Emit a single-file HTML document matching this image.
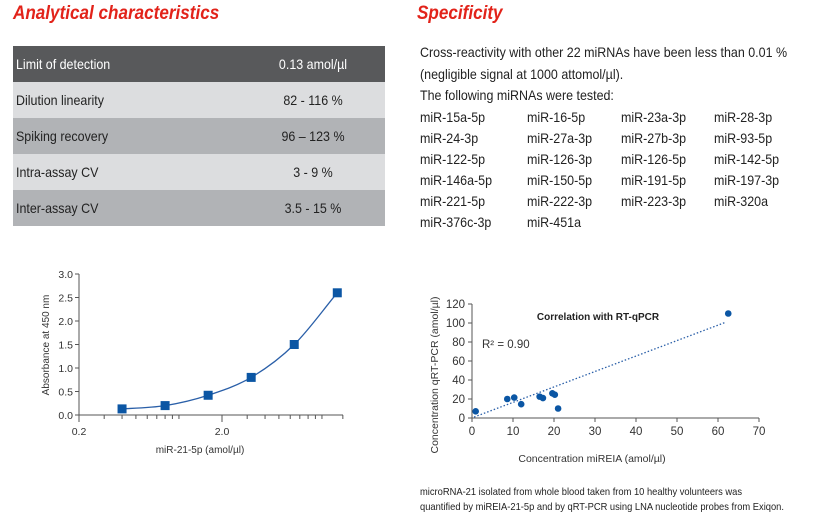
<!DOCTYPE html>
<html><head><meta charset="utf-8">
<style>
body{margin:0;width:839px;height:522px;background:#fff;overflow:hidden;font-family:"Liberation Sans",sans-serif;color:#222;position:relative}
.abs{position:absolute;white-space:nowrap}
.n{transform:scaleX(0.89);transform-origin:0 50%}
h2{position:absolute;margin:0;font-size:19px;font-style:italic;font-weight:bold;color:#e2231a;white-space:nowrap;transform:scaleX(0.9);transform-origin:0 50%}
.row{position:absolute;left:13px;width:372px;height:36px;font-size:14px;line-height:36px}
.row span{position:absolute;left:3px;transform:scaleX(0.89);transform-origin:0 50%;white-space:nowrap}
.row b{position:absolute;left:220px;width:160px;text-align:center;font-weight:normal;transform:scaleX(0.89);white-space:nowrap}
.t{font-size:14px}
</style></head><body>
<h2 style="left:13px;top:3px">Analytical characteristics</h2>
<h2 style="left:417px;top:3px">Specificity</h2>
<div>
<div class="row" style="top:46px;background:#58595b;color:#fff"><span>Limit of detection</span><b>0.13 amol/µl</b></div>
<div class="row" style="top:82px;background:#dcdddf"><span>Dilution linearity</span><b>82 - 116 %</b></div>
<div class="row" style="top:118px;background:#b1b3b6"><span>Spiking recovery</span><b>96 – 123 %</b></div>
<div class="row" style="top:154px;background:#dcdddf"><span>Intra-assay CV</span><b>3 - 9 %</b></div>
<div class="row" style="top:190px;background:#b1b3b6"><span>Inter-assay CV</span><b>3.5 - 15 %</b></div>
</div>
<div class="abs t n" style="left:420px;top:44px">Cross-reactivity with other 22 miRNAs have been less than 0.01 %</div>
<div class="abs t n" style="left:420px;top:66px">(negligible signal at 1000 attomol/µl).</div>
<div class="abs t n" style="left:420px;top:87px">The following miRNAs were tested:</div>
<div id="mirs"></div>
<div class="abs n" style="left:420px;top:485px;font-size:10.5px;line-height:15px">microRNA-21 isolated from whole blood taken from 10 healthy volunteers was<br>quantified by miREIA-21-5p and by qRT-PCR using LNA nucleotide probes from Exiqon.</div>
<svg id="c1" class="abs" style="left:0;top:260px" width="360" height="200"></svg>
<svg id="c2" class="abs" style="left:420px;top:290px" width="380" height="180"></svg>
<script>
const mirs=["miR-15a-5p","miR-16-5p","miR-23a-3p","miR-28-3p","miR-24-3p","miR-27a-3p","miR-27b-3p","miR-93-5p","miR-122-5p","miR-126-3p","miR-126-5p","miR-142-5p","miR-146a-5p","miR-150-5p","miR-191-5p","miR-197-3p","miR-221-5p","miR-222-3p","miR-223-3p","miR-320a","miR-376c-3p","miR-451a"];
const colX=[420,527,621,714];
const md=document.getElementById('mirs');
mirs.forEach((m,i)=>{const d=document.createElement('div');d.className='abs t n';d.style.left=colX[i%4]+'px';d.style.top=(109+Math.floor(i/4)*21)+'px';d.textContent=m;


md.appendChild(d);});

const NS='http://www.w3.org/2000/svg';
function el(svg,tag,a,txt){const e=document.createElementNS(NS,tag);for(const k in a)e.setAttribute(k,a[k]);if(txt!==undefined)e.textContent=txt;svg.appendChild(e);return e;}

// Chart 1: standard curve
const conc=[0.4,0.8,1.6,3.2,6.4,12.8];
const absorb=[0.13,0.2,0.42,0.8,1.5,2.6];
const yTicks1=[0,0.5,1.0,1.5,2.0,2.5,3.0];
const xLabels1=[0.2,2.0];
const s1=document.getElementById('c1');
const X1=v=>79+143*Math.log10(v/0.2), Y1=v=>155-47*v;
el(s1,'line',{x1:79,y1:14,x2:79,y2:155,stroke:'#555'});
el(s1,'line',{x1:79,y1:155,x2:343,y2:155,stroke:'#555'});
yTicks1.forEach(t=>{el(s1,'line',{x1:75,x2:79,y1:Y1(t),y2:Y1(t),stroke:'#555'});
const tx=el(s1,'text',{x:73,y:Y1(t)+4,'text-anchor':'end','font-size':10.5,fill:'#333'},t.toFixed(1));});
[0.2,0.3,0.4,0.5,0.6,0.7,0.8,0.9,1,2,3,4,5,6,7,8,9,10,14].forEach(v=>{const big=(v==0.2||v==2);el(s1,'line',{x1:X1(v),x2:X1(v),y1:155,y2:big?162:159,stroke:'#555'});});
xLabels1.forEach(v=>{const tx=el(s1,'text',{x:X1(v),y:175,'text-anchor':'middle','font-size':10.5,fill:'#333'},v.toFixed(1));});
let t1=el(s1,'text',{x:200,y:193,'text-anchor':'middle','font-size':10,fill:'#333'},'miR-21-5p (amol/µl)');
let t2=el(s1,'text',{x:0,y:0,'text-anchor':'middle','font-size':10,fill:'#333',transform:'translate(49,85) rotate(-90)'},'Absorbance at 450 nm');
// smooth curve via Catmull-Rom in pixel space
const P=conc.map((c,i)=>[X1(c),Y1(absorb[i])]);
let d='M'+P[0][0]+','+P[0][1];
for(let i=0;i<P.length-1;i++){const p0=P[i-1]||P[i],p1=P[i],p2=P[i+1],p3=P[i+2]||[2*P[i+1][0]-P[i][0],2*P[i+1][1]-P[i][1]];
const c1=[p1[0]+(p2[0]-p0[0])/6,p1[1]+(p2[1]-p0[1])/6],c2=[p2[0]-(p3[0]-p1[0])/6,p2[1]-(p3[1]-p1[1])/6];
d+=' C'+c1+' '+c2+' '+p2;}
let cv=el(s1,'path',{d:d,fill:'none',stroke:'#2a5fa8','stroke-width':1.3});
conc.forEach((c,i)=>{const r=el(s1,'rect',{x:X1(c)-4.5,y:Y1(absorb[i])-4.5,width:9,height:9,fill:'#0b56a4'});});

// Chart 2: correlation
const mireia=[0.9,8.6,10.3,12,16.5,17.3,19.6,20.2,21,62.5];
const qpcr=[7,20,21.5,14.5,22.5,21,26,24.5,10,110];
const xTicks2=[0,10,20,30,40,50,60,70];
const yTicks2=[0,20,40,60,80,100,120];
const trend=[[0.5,1],[62,101]];
const s2=document.getElementById('c2');
const X2=v=>52+v*(287/70), Y2=v=>128-v*(114/120);
el(s2,'line',{x1:52,y1:14,x2:52,y2:128,stroke:'#555'});
el(s2,'line',{x1:52,y1:128,x2:339,y2:128,stroke:'#555'});
yTicks2.forEach(t=>{el(s2,'line',{x1:48,x2:52,y1:Y2(t),y2:Y2(t),stroke:'#555'});const tx=el(s2,'text',{x:45,y:Y2(t)+4,'text-anchor':'end','font-size':11.5,fill:'#333'},t);});
xTicks2.forEach(t=>{el(s2,'line',{x1:X2(t),x2:X2(t),y1:128,y2:132,stroke:'#555'});const tx=el(s2,'text',{x:X2(t),y:145,'text-anchor':'middle','font-size':11.5,fill:'#333'},t);});
let a=el(s2,'text',{x:172,y:172,'text-anchor':'middle','font-size':10.5,fill:'#333'},'Concentration miREIA (amol/µl)');
let b=el(s2,'text',{x:0,y:0,'text-anchor':'middle','font-size':10.5,fill:'#333',transform:'translate(18,85) rotate(-90)'},'Concentration qRT-PCR (amol/µl)');
let c=el(s2,'text',{x:178,y:30,'text-anchor':'middle','font-size':10,'font-weight':'bold',fill:'#222'},'Correlation with RT-qPCR');
let r2=el(s2,'text',{x:62,y:58,'font-size':11.5,fill:'#333'},'R² = 0.90');
let tl=el(s2,'line',{x1:X2(trend[0][0]),y1:Y2(trend[0][1]),x2:X2(trend[1][0]),y2:Y2(trend[1][1]),stroke:'#2a5fa8','stroke-width':1.3,'stroke-dasharray':'1.5,2'});
mireia.forEach((v,i)=>{const p=el(s2,'circle',{cx:X2(v),cy:Y2(qpcr[i]),r:3.3,fill:'#0b56a4'});});
</script>
</body></html>
